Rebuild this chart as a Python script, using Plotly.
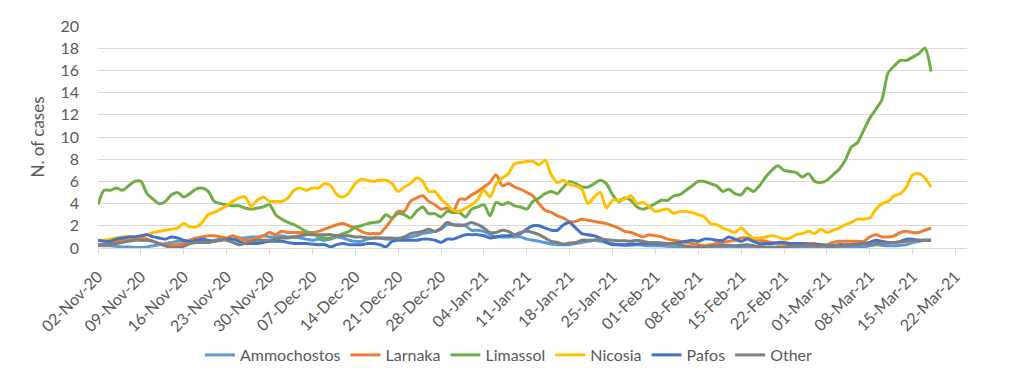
import pandas as pd
import plotly.graph_objects as go

start_date = "2020-11-02"

ammochostos = [0.2, 0.2, 0.2, 0.15, 0.1, 0.1, 0.05, 0.05, 0.1, 0.2,
               0.3, 0.4, 0.5, 0.6, 0.6, 0.5, 0.6, 0.7, 0.6, 0.7,
               0.8, 0.8, 0.8, 0.9, 0.9, 1.0, 1.0, 1.1, 1.0, 1.0,
               1.1, 1.0, 1.0, 0.9, 0.8, 0.7, 0.8, 0.7, 0.8, 1.0,
               0.9, 0.7, 0.6, 0.6, 0.8, 0.9, 0.9, 0.8, 0.8, 0.9,
               0.9, 1.0, 1.1, 1.3, 1.4, 1.5, 1.7, 2.1, 2.1, 2.1,
               2.0, 1.6, 1.6, 1.5, 1.2, 1.0, 1.0, 1.0, 1.0, 1.0,
               0.8, 0.7, 0.6, 0.5, 0.35, 0.3, 0.3, 0.3, 0.4, 0.5,
               0.6, 0.7, 0.6, 0.5, 0.4, 0.3, 0.25, 0.25, 0.3, 0.25,
               0.2, 0.2, 0.2, 0.15, 0.1, 0.1, 0.06, 0.06, 0.05, 0.06,
               0.1, 0.1, 0.1, 0.1, 0.1, 0.08, 0.08, 0.06, 0.06, 0.05,
               0.05, 0.06, 0.08, 0.1, 0.1, 0.1, 0.1, 0.1, 0.1, 0.1,
               0.08, 0.1, 0.1, 0.1, 0.1, 0.1, 0.2, 0.3, 0.25, 0.2,
               0.2, 0.25, 0.3, 0.5, 0.6, 0.7, 0.7]

larnaka = [0.3, 0.3, 0.4, 0.6, 0.7, 0.8, 0.9, 0.9, 0.8, 0.6,
           0.4, 0.3, 0.3, 0.3, 0.4, 0.7, 0.9, 1.0, 1.1, 1.1,
           1.0, 0.9, 1.1, 0.9, 0.7, 0.8, 0.9, 1.1, 1.4, 1.2,
           1.5, 1.4, 1.4, 1.4, 1.4, 1.4, 1.5, 1.7, 1.9, 2.1,
           2.2, 2.0, 1.8, 1.5, 1.3, 1.3, 1.3, 1.9, 2.6, 3.3,
           3.3, 4.2, 4.5, 4.7, 4.2, 3.9, 3.5, 3.6, 3.3, 4.4,
           4.4, 4.8, 5.1, 5.5, 5.9, 6.6, 5.6, 5.8, 5.5, 5.3,
           5.0, 4.7, 4.0, 3.4, 3.2, 2.9, 2.7, 2.4, 2.4, 2.6,
           2.5, 2.4, 2.3, 2.2, 2.0, 1.8, 1.5, 1.4, 1.2, 1.0,
           1.2, 1.1, 1.0, 0.8, 0.7, 0.6, 0.5, 0.4, 0.3, 0.2,
           0.3, 0.4, 0.5, 0.6, 0.7, 0.9, 0.9, 0.8, 0.7, 0.6,
           0.5, 0.4, 0.4, 0.4, 0.4, 0.4, 0.4, 0.4, 0.3, 0.3,
           0.5, 0.6, 0.6, 0.6, 0.6, 0.6, 1.0, 1.2, 1.0, 1.0,
           1.1, 1.4, 1.5, 1.4, 1.4, 1.6, 1.8]

limassol = [3.9, 5.2, 5.2, 5.4, 5.2, 5.6, 6.0, 6.0, 4.9, 4.4,
            4.0, 4.2, 4.8, 5.0, 4.6, 4.9, 5.3, 5.4, 5.1, 4.2,
            4.0, 3.9, 3.8, 3.8, 3.6, 3.5, 3.6, 3.7, 3.9, 3.0,
            2.6, 2.3, 2.1, 1.8, 1.5, 1.3, 1.0, 0.9, 0.9, 1.1,
            1.3, 1.5, 1.9, 2.0, 2.2, 2.3, 2.4, 3.0, 2.7, 3.1,
            3.0, 2.7, 3.3, 3.7, 3.1, 3.1, 2.8, 3.3, 3.2, 3.2,
            2.8, 3.5, 3.7, 3.9, 2.9, 4.1, 3.9, 4.1, 3.8, 3.7,
            3.5, 4.2, 4.5, 4.9, 5.1, 4.9, 5.5, 6.0, 5.8, 5.5,
            5.5, 5.8, 6.1, 5.8, 4.8, 4.2, 4.5, 4.3, 3.7, 3.5,
            3.7, 4.0, 4.3, 4.3, 4.7, 4.8, 5.2, 5.6, 6.0, 6.0,
            5.8, 5.6, 5.1, 5.3, 4.9, 4.8, 5.4, 5.1, 5.6, 6.4,
            7.0, 7.4, 7.0, 6.9, 6.8, 6.4, 6.7, 6.0, 5.9, 6.1,
            6.6, 7.1, 7.9, 9.1, 9.5, 10.6, 11.7, 12.5, 13.4, 15.8,
            16.4, 16.9, 16.9, 17.2, 17.5, 18.0, 15.9]

nicosia = [0.7, 0.7, 0.8, 0.9, 1.0, 1.0, 1.0, 1.1, 1.2, 1.4,
           1.5, 1.6, 1.7, 1.8, 2.2, 1.9, 1.9, 2.3, 3.0, 3.2,
           3.5, 3.8, 4.2, 4.5, 4.6, 3.8, 4.3, 4.6, 4.2, 4.2,
           4.2, 4.5, 5.2, 5.4, 5.2, 5.4, 5.4, 5.8, 5.6, 4.8,
           4.6, 5.0, 5.8, 6.2, 6.1, 6.0, 6.1, 6.1, 5.8, 5.1,
           5.5, 5.8, 6.3, 6.0, 5.1, 5.1, 4.4, 3.9, 3.4, 3.3,
           3.6, 3.9, 4.4, 5.2, 4.6, 5.8, 6.3, 6.7, 7.6, 7.7,
           7.8, 7.8, 7.5, 7.9, 6.6, 5.9, 6.1, 5.7, 5.6, 5.3,
           4.0, 4.6, 5.0, 3.6, 4.3, 4.3, 4.4, 4.7, 4.0, 4.1,
           3.7, 3.3, 3.4, 3.5, 3.1, 3.3, 3.3, 3.2, 3.0, 2.8,
           2.2, 2.1, 1.8, 1.6, 1.4, 1.8, 1.3, 0.9, 0.9, 1.0,
           1.1, 1.0, 0.8, 0.9, 1.2, 1.3, 1.5, 1.3, 1.7, 1.4,
           1.6, 1.8, 2.1, 2.3, 2.6, 2.6, 2.7, 3.5, 4.0, 4.2,
           4.7, 4.9, 5.5, 6.6, 6.7, 6.3, 5.5]

pafos = [0.7, 0.6, 0.6, 0.8, 0.9, 1.0, 1.0, 1.1, 1.2, 1.0,
         0.9, 0.8, 1.0, 0.9, 0.7, 0.6, 0.7, 0.8, 0.7, 0.6,
         0.7, 0.8, 0.8, 0.6, 0.4, 0.4, 0.4, 0.5, 0.6, 0.6,
         0.6, 0.5, 0.4, 0.4, 0.4, 0.35, 0.3, 0.3, 0.1, 0.3,
         0.4, 0.3, 0.3, 0.3, 0.4, 0.4, 0.3, 0.1, 0.6, 0.7,
         0.7, 0.7, 0.7, 0.8, 0.8, 0.7, 0.5, 0.8, 0.8, 1.0,
         1.2, 1.2, 1.2, 1.1, 0.9, 1.0, 1.1, 1.1, 1.2, 1.3,
         1.7, 2.0, 2.0, 1.8, 1.6, 1.6, 2.1, 2.3, 1.8, 1.3,
         1.2, 1.1, 0.9, 0.5, 0.3, 0.3, 0.3, 0.35, 0.35, 0.4,
         0.4, 0.4, 0.35, 0.4, 0.4, 0.5, 0.6, 0.7, 0.6, 0.8,
         0.8, 0.7, 0.7, 1.0, 0.8, 0.6, 0.8, 0.6, 0.4, 0.4,
         0.4, 0.5, 0.5, 0.4, 0.4, 0.4, 0.3, 0.3, 0.3, 0.2,
         0.2, 0.3, 0.3, 0.3, 0.35, 0.4, 0.5, 0.7, 0.6, 0.5,
         0.5, 0.6, 0.8, 0.8, 0.7, 0.7, 0.7]

other = [0.3, 0.3, 0.3, 0.4, 0.5, 0.6, 0.7, 0.7, 0.7, 0.6,
         0.4, 0.2, 0.05, 0.05, 0.15, 0.4, 0.5, 0.5, 0.5, 0.6,
         0.7, 0.7, 0.5, 0.3, 0.4, 0.6, 0.7, 0.7, 0.7, 0.8,
         0.9, 0.9, 1.0, 1.1, 1.2, 1.2, 1.2, 1.2, 1.2, 1.1,
         1.1, 1.1, 1.0, 1.0, 0.9, 0.9, 0.9, 0.9, 0.9, 0.8,
         1.0, 1.3, 1.4, 1.5, 1.7, 1.5, 1.8, 2.3, 2.1, 2.0,
         2.1, 2.3, 2.1, 1.8, 1.4, 1.4, 1.6, 1.5, 1.2, 1.4,
         1.5, 1.4, 1.2, 0.9, 0.6, 0.5, 0.35, 0.45, 0.5, 0.7,
         0.7, 0.7, 0.8, 0.75, 0.7, 0.65, 0.65, 0.6, 0.7, 0.6,
         0.5, 0.5, 0.45, 0.4, 0.35, 0.3, 0.15, 0.1, 0.08, 0.1,
         0.15, 0.2, 0.25, 0.25, 0.2, 0.25, 0.3, 0.2, 0.15, 0.1,
         0.08, 0.08, 0.1, 0.15, 0.2, 0.2, 0.2, 0.2, 0.2, 0.2,
         0.2, 0.2, 0.25, 0.3, 0.3, 0.35, 0.35, 0.4, 0.4, 0.45,
         0.5, 0.55, 0.6, 0.7, 0.7, 0.7, 0.7]

series_names = ["Ammochostos", "Larnaka", "Limassol", "Nicosia", "Pafos", "Other"]
series_values = [ammochostos, larnaka, limassol, nicosia, pafos, other]
series_colors = ["#5B9BD5", "#ED7D31", "#70AD47", "#FFC000", "#4472C4", "#7F7F7F"]

dates = pd.date_range(start_date, periods=len(limassol), freq="D")

FONT = "Lato, 'Liberation Sans', sans-serif"
TXT = "#595959"

fig = go.Figure()
for name, vals, col in zip(series_names, series_values, series_colors):
    fig.add_trace(go.Scatter(
        x=dates, y=vals, name=name, mode="lines",
        line=dict(color=col, width=3, shape="spline", smoothing=0.8),
    ))

# page body has an 8px default margin, so figure coords = page coords - 8
fig.update_layout(
    width=1010, height=371,
    margin=dict(l=90, r=51, t=18, b=131, autoexpand=False),
    paper_bgcolor="white", plot_bgcolor="white",
    font=dict(family=FONT, size=16, color=TXT),
    showlegend=True,
    legend=dict(orientation="h", xref="container", yref="container",
                x=0.496, xanchor="center", y=0.0647, yanchor="middle",
                font=dict(family=FONT, size=16, color=TXT), itemwidth=30),
    xaxis=dict(
        type="date", automargin=False,
        range=["2020-11-02", "2021-03-23 21:00"],
        tick0="2020-11-02", dtick=7 * 86400000,
        tickformat="%d-%b-%y", tickangle=-45,
        showgrid=False, showline=True, linecolor="#D9D9D9", linewidth=1,
        ticks="outside", ticklen=5, tickcolor="#D9D9D9",
        ticklabelstandoff=7,
        tickfont=dict(family=FONT, size=16, color=TXT),
        zeroline=False,
    ),
    yaxis=dict(
        range=[0, 20], dtick=2, automargin=False,
        showgrid=True, gridcolor="#D9D9D9", gridwidth=1,
        showline=False, zeroline=False,
        ticks="", ticklabelstandoff=18,
        tickfont=dict(family=FONT, size=16, color=TXT),
        title=dict(text="N. of cases", font=dict(family=FONT, size=17, color=TXT), standoff=11),
    ),
)

fig.write_html("out.html")
